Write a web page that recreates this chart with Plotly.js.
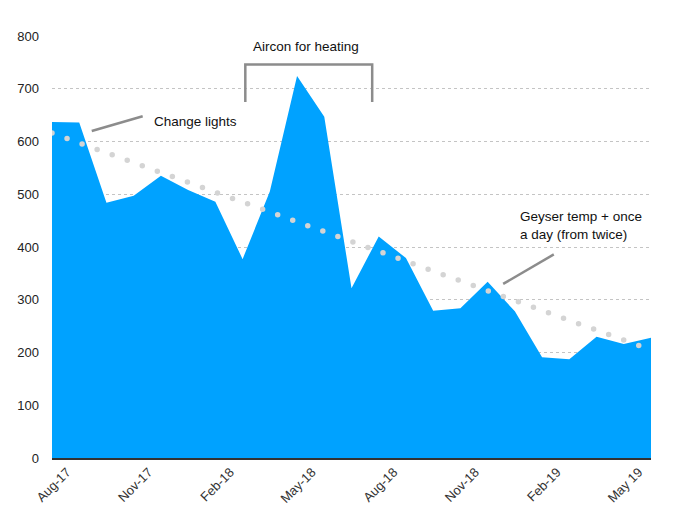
<!DOCTYPE html>
<html><head><meta charset="utf-8">
<script src="https://cdn.plot.ly/plotly-3.0.1.min.js"></script>
<style>html,body{margin:0;padding:0;background:#fff}
#chart path.js-line{stroke-linecap:round}
</style></head><body><div id="chart" style="width:674px;height:528px"></div>
<script>
const months = ["Aug-17","Sep-17","Oct-17","Nov-17","Dec-17","Jan-18","Feb-18","Mar-18","Apr-18","May-18","Jun-18","Jul-18",
  "Aug-18","Sep-18","Oct-18","Nov-18","Dec-18","Jan-19","Feb-19","Mar-19","Apr-19","May-19","Jun-19"];
const usage = [637,636,484,497,535,508,486,377,505,724,647,322,420,379,279,284,334,278,191,187,230,216,228];
const tickLabels = ["Aug-17","Nov-17","Feb-18","May-18","Aug-18","Nov-18","Feb-19","May 19"];
const tickMonthIndex = [0,3,6,9,12,15,18,21];
const trendStart = 616, trendEnd = 205;

const idx = months.map((m,i)=>i);
const labelShift = 0.55;

const area = {x: idx, y: usage, type:'scatter', mode:'lines', fill:'tozeroy',
  fillcolor:'#00a2ff', line:{width:0, color:'#00a2ff'}, hoverinfo:'skip', text: months};
const trend = {x:[idx[0], idx[idx.length-1]], y:[trendStart, trendEnd], type:'scatter', mode:'lines',
  line:{color:'#d4d4d4', width:5.5, dash:'0px,16px'}, hoverinfo:'skip'};

const grey = '#8c8c8c';
const layout = {
  width:674, height:528, margin:{l:52, r:23, t:36, b:70},
  paper_bgcolor:'#fff', plot_bgcolor:'#fff', showlegend:false,
  font:{family:'"Liberation Sans", Arial, sans-serif', color:'#222', size:13},
  xaxis:{range:[0,22], tickvals: tickMonthIndex.map(i=>i+labelShift), ticktext: tickLabels,
    tickangle:-45, showgrid:false, zeroline:false, showline:true, linecolor:'#333', linewidth:1.5,
    ticks:'', tickfont:{size:13, color:'#333'}},
  yaxis:{range:[0,800], tickvals:[0,100,200,300,400,500,600,700,800], showgrid:true,
    gridcolor:'#c4c4c4', griddash:'3px,3px', gridwidth:1, zeroline:false, showline:false, ticks:'',
    ticklabelstandoff:12, tickfont:{size:13, color:'#222'}},
  shapes:[
    {type:'line', xref:'x', yref:'y', x0:1.46, y0:620, x1:3.33, y1:648, line:{color:grey, width:2.5}},
    {type:'path', xref:'x', yref:'y', path:'M 7.1,675 L 7.1,746 L 11.76,746 L 11.76,675', line:{color:grey, width:2.5}},
    {type:'line', xref:'x', yref:'y', x0:16.57, y0:330, x1:18.43, y1:386, line:{color:grey, width:2.5}}
  ],
  annotations:[
    {xref:'x', yref:'y', x:3.69, y:637, text:'Change lights', showarrow:false, xanchor:'left', yanchor:'middle', font:{size:13.5, color:'#111'}},
    {xref:'x', yref:'y', x:9.33, y:781, text:'Aircon for heating', showarrow:false, xanchor:'center', yanchor:'middle', font:{size:13.5, color:'#111'}},
    {xref:'x', yref:'y', x:17.1, y:441.5, text:'Geyser temp + once<br>a day (from twice)', showarrow:false, xanchor:'left', yanchor:'middle', align:'left', font:{size:13.5, color:'#111'}}
  ]
};
Plotly.newPlot('chart', [area, trend], layout, {displayModeBar:false, staticPlot:true});
</script></body></html>
